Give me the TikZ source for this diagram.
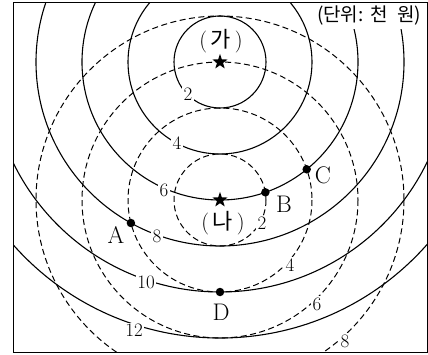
\documentclass[tikz,border=0pt]{standalone}
\usepackage{fontspec}
\newfontfamily\kor{Noto Sans CJK KR}
\usetikzlibrary{shapes.geometric}
\tikzset{
  solidc/.style={line width=1.1pt},
  dashc/.style={line width=1.0pt, dash pattern=on 6pt off 3.5pt},
  numlab/.style={fill=white, inner sep=1.2pt, font=\fontsize{19}{21}\selectfont},
  ptlab/.style={inner sep=0pt, font=\fontsize{24}{26}\selectfont},
  dot/.style={circle, fill=black, inner sep=0pt, minimum size=8.5pt},
  starmark/.style={star, star points=5, star point ratio=2.5, fill=black, inner sep=0pt, minimum size=16pt},
  korlab/.style={inner sep=1pt, font=\fontsize{22}{24}\selectfont},
}
\begin{document}
\begin{tikzpicture}[x=1pt,y=-1pt]
\useasboundingbox (0,0) rectangle (428,355);
\coordinate (Ga) at (220,62);
\coordinate (Na) at (220,200);
\begin{scope}
  \clip (13,3) rectangle (427,352);
  \foreach \r in {1,...,6} \draw[solidc] (Ga) circle[radius={46*\r}];
  \foreach \r in {1,...,4} \draw[dashc] (Na) circle[radius={46*\r}];
\end{scope}
% solid circle labels
\node[numlab] (s2) at (188,94) {2};
\node[numlab] (s4) at (177,143) {4};
\node[numlab] (s6) at (164,190) {6};
\node[numlab] (s8) at (157,236) {8};
\node[numlab] (s10) at (146,282) {10};
\node[numlab] (s12) at (134,330) {12};
% dashed circle labels
\node[numlab] (d2) at (262,223) {2};
\node[numlab] (d4) at (290,265) {4};
\node[numlab] (d6) at (317,304) {6};
\node[numlab] (d8) at (345,341) {8};
% unit label
\node[fill=white, inner sep=0pt, minimum width=114pt, minimum height=26pt, anchor=north east] (unitbox) at (427,3) {};
\node[inner sep=0pt, font=\kor\fontsize{19}{21}\selectfont] (unit) at (369,16) {(단위:\,\,천\,\,\,원)};
% stars and region labels
\node[starmark] (starGa) at (Ga) {};
\node[starmark] (starNa) at (Na) {};
\node[korlab] (ga) at (221,41) {(\,{\kor 가}\,)};
\node[korlab] (na) at (223,223) {(\,{\kor 나}\,)};
% points
\node[dot] (A) at (130.9,223) {};
\node[dot] (B) at (265.4,192.3) {};
\node[dot] (C) at (306.7,169.3) {};
\node[dot] (D) at (220,292) {};
\node[ptlab] (Al) at (116,235) {A};
\node[ptlab] (Bl) at (284,204) {B};
\node[ptlab] (Cl) at (323,175) {C};
\node[ptlab] (Dl) at (221,312) {D};
% frame
\draw[line width=1pt] (13,3) rectangle (427,352);
\end{tikzpicture}
\end{document}
